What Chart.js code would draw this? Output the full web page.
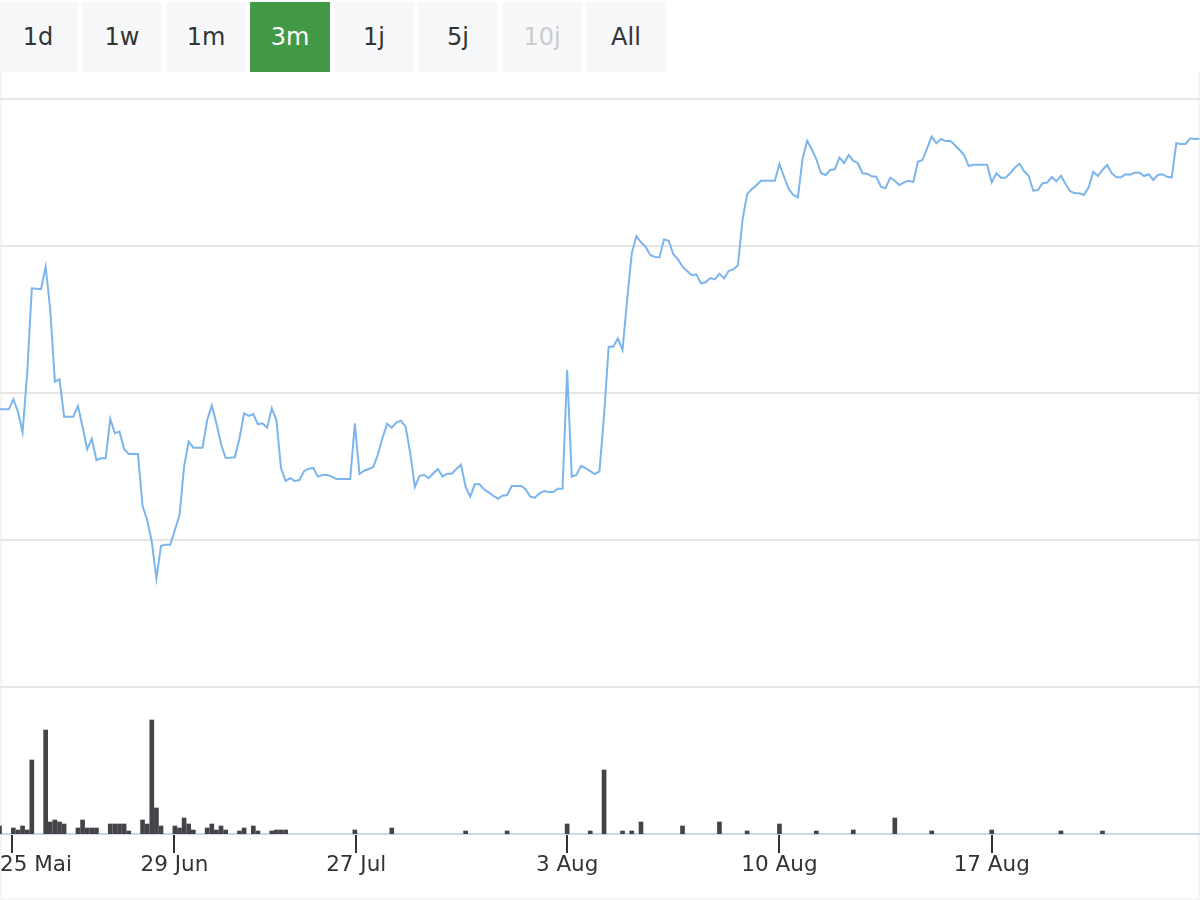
<!DOCTYPE html>
<html>
<head>
<meta charset="utf-8">
<title>Kursverlauf 3m</title>
<script src="https://cdn.jsdelivr.net/npm/chart.js@4.4.0/dist/chart.umd.min.js"></script>
<style>
  html, body { margin: 0; padding: 0; background: #fff; }
  body { width: 1200px; height: 900px; position: relative; overflow: hidden; font-family: "DejaVu Sans", sans-serif; }
  .ranges { position: absolute; top: 2px; left: -2px; display: flex; gap: 4px; }
  .ranges span { width: 80px; height: 70px; line-height: 70px; text-align: center; background: #f7f8fa; color: #333; font-size: 24px; }
  .ranges .active { background: #439a46; color: #fff; }
  .ranges .off { color: #cccccc; }
  .frame { position: absolute; top: 72px; left: 0; width: 1200px; height: 828px; box-sizing: border-box; border: 2px solid #f4f4f4; border-top: none; }
  .chart-box { position: absolute; top: 72px; left: 0; width: 1200px; height: 828px; }
</style>
</head>
<body>
<div class="ranges">
  <span>1d</span><span>1w</span><span>1m</span><span class="active">3m</span><span>1j</span><span>5j</span><span class="off">10j</span><span>All</span>
</div>
<div class="frame"></div>
<div class="chart-box"><canvas id="price-chart"></canvas></div>

<script>
// price per trading point (evenly spaced, gaps between sessions removed)
const price = [
  28.89, 28.89, 28.89, 29.57, 28.73, 27.33, 31.34, 37.12, 37.10, 37.07,
  38.59, 35.65, 30.77, 30.93, 28.39, 28.39, 28.39, 29.12, 27.71, 26.17,
  26.89, 25.44, 25.56, 25.56, 28.23, 27.26, 27.37, 26.19, 25.85, 25.85,
  25.85, 22.31, 21.36, 19.88, 17.39, 19.61, 19.68, 19.68, 20.68, 21.68,
  24.99, 26.69, 26.28, 26.28, 26.28, 28.16, 29.14, 27.94, 26.53, 25.58,
  25.60, 25.63, 26.92, 28.62, 28.44, 28.57, 27.87, 27.94, 27.64, 28.96,
  28.16, 24.88, 24.03, 24.20, 24.01, 24.08, 24.69, 24.85, 24.90, 24.31,
  24.42, 24.42, 24.31, 24.15, 24.15, 24.15, 24.15, 27.94, 24.49, 24.71,
  24.83, 24.97, 25.83, 26.96, 27.91, 27.64, 27.98, 28.12, 27.71, 25.90,
  23.61, 24.35, 24.44, 24.20, 24.54, 24.83, 24.31, 24.51, 24.51, 24.83,
  25.12, 23.63, 22.95, 23.79, 23.79, 23.45, 23.24, 23.01, 22.81, 23.01,
  23.06, 23.67, 23.67, 23.67, 23.45, 22.95, 22.88, 23.18, 23.33, 23.27,
  23.27, 23.49, 23.49, 31.56, 24.31, 24.42, 25.05, 24.88, 24.69, 24.49,
  24.67, 28.50, 33.15, 33.15, 33.72, 32.93, 36.33, 39.50, 40.68, 40.25,
  39.95, 39.39, 39.25, 39.23, 40.46, 40.36, 39.44, 39.10, 38.59, 38.30,
  38.01, 38.07, 37.46, 37.53, 37.82, 37.73, 38.12, 37.80, 38.30, 38.41,
  38.69, 41.77, 43.54, 43.86, 44.13, 44.44, 44.44, 44.44, 44.44, 45.58,
  44.71, 43.88, 43.47, 43.31, 45.90, 47.16, 46.58, 45.90, 44.95, 44.83,
  45.17, 45.22, 46.01, 45.65, 46.19, 45.80, 45.63, 44.95, 44.92, 44.74,
  44.71, 44.03, 43.93, 44.65, 44.44, 44.15, 44.33, 44.44, 44.35, 45.73,
  45.85, 46.65, 47.44, 46.99, 47.28, 47.14, 47.16, 46.87, 46.55, 46.21,
  45.44, 45.53, 45.53, 45.53, 45.53, 44.33, 44.95, 44.65, 44.65, 44.95,
  45.33, 45.60, 45.10, 44.78, 43.76, 43.81, 44.27, 44.31, 44.69, 44.40,
  44.78, 44.22, 43.72, 43.59, 43.59, 43.47, 43.99, 45.05, 44.76, 45.17,
  45.51, 44.95, 44.67, 44.67, 44.88, 44.85, 44.99, 44.99, 44.76, 44.88,
  44.49, 44.83, 44.88, 44.71, 44.67, 46.99, 46.94, 46.94, 47.33, 47.28,
  47.30
];

// traded volume: point index and amount (points without trades are left out)
const volumeAt = [0, 3, 4, 5, 6, 7, 10, 11, 12, 13, 14, 17, 18, 19, 20, 21,
  24, 25, 26, 27, 28, 31, 32, 33, 34, 35, 38, 39, 40, 41, 42, 45, 46, 47, 48, 49,
  52, 53, 55, 56, 59, 60, 61, 62, 77, 85, 101, 110, 123, 128, 131, 135, 137, 139,
  148, 156, 162, 169, 177, 185, 194, 202, 215, 230, 239];
const volume = [8, 6, 4, 8, 4, 74, 104, 12, 14, 12, 10, 6, 14, 6, 6, 6,
  10, 10, 10, 10, 3, 14, 10, 114, 26, 8, 8, 6, 16, 10, 4, 6, 10, 4, 8, 4,
  3, 6, 8, 3, 3, 4, 4, 4, 4, 6, 3, 3, 10, 3, 64, 3, 3, 12,
  8, 12, 3, 10, 3, 4, 16, 3, 4, 3, 3];

// date ticks (point index where each day starts)
const tickPos = [2.8, 37.9, 77.3, 123, 169, 215];
const tickLabels = ["25 Mai", "29 Jun", "27 Jul", "3 Aug", "10 Aug", "17 Aug"];

// x labels kept inside the canvas, like the original stock chart
const edgeLabels = {
  id: "edgeLabels",
  afterDraw(chart) {
    const { ctx, width } = chart;
    const x = chart.scales.x;
    ctx.save();
    ctx.font = '21.5px "DejaVu Sans"';
    ctx.fillStyle = "#333333";
    ctx.textBaseline = "alphabetic";
    tickPos.forEach(function (pos, i) {
      const text = tickLabels[i];
      const w = ctx.measureText(text).width;
      let left = x.getPixelForValue(pos) - w / 2;
      left = Math.max(0, Math.min(width - w, left));
      ctx.fillText(text, left, x.top + 37);
    });
    ctx.restore();
  },
};

const ctx = document.getElementById("price-chart").getContext("2d");

new Chart(ctx, {
  data: {
    datasets: [
      {
        type: "line",
        label: "Kurs",
        data: price.map(function (v, i) { return { x: i, y: v }; }),
        yAxisID: "y",
        borderColor: "#7cb5ec",
        borderWidth: 2,
        pointRadius: 0,
        tension: 0,
        order: 1,
      },
      {
        type: "bar",
        label: "Volumen",
        data: volumeAt.map(function (idx, i) { return { x: idx, y: volume[i] }; }),
        yAxisID: "vol",
        backgroundColor: "#434348",
        borderWidth: 0,
        barThickness: 4,
        order: 2,
      },
    ],
  },
  options: {
    responsive: true,
    maintainAspectRatio: false,
    animation: false,
    layout: { padding: { top: 27, left: 0, right: 0, bottom: 0 } },
    plugins: {
      legend: { display: false },
      tooltip: { enabled: false },
    },
    scales: {
      x: {
        type: "linear",
        min: 0.108,
        max: 260.13,
        offset: false,
        afterBuildTicks: function (scale) {
          scale.ticks = tickPos.map(function (v) { return { value: v }; });
        },
        afterFit: function (scale) {
          scale.height = 66;
          scale.paddingLeft = 0;
          scale.paddingRight = 0;
        },
        border: { display: true, color: "#ccd6eb", width: 2 },
        grid: {
          offset: false,
          drawOnChartArea: false,
          drawTicks: true,
          tickLength: 19,
          tickColor: "#333333",
          tickWidth: 2,
          lineWidth: 2,
        },
        ticks: { display: false },
      },
      y: {
        position: "left",
        min: 0,
        max: 50,
        afterFit: function (scale) { scale.width = 0; },
        border: { display: false },
        grid: {
          drawTicks: false,
          lineWidth: 2,
          color: function (c) { return c.tick && c.tick.value === 0 ? "transparent" : "#e6e6e6"; },
        },
        ticks: { display: false, stepSize: 10 },
      },
      vol: {
        position: "right",
        display: false,
        min: 0,
        max: 735,
      },
    },
  },
  plugins: [edgeLabels],
});
</script>
</body>
</html>
